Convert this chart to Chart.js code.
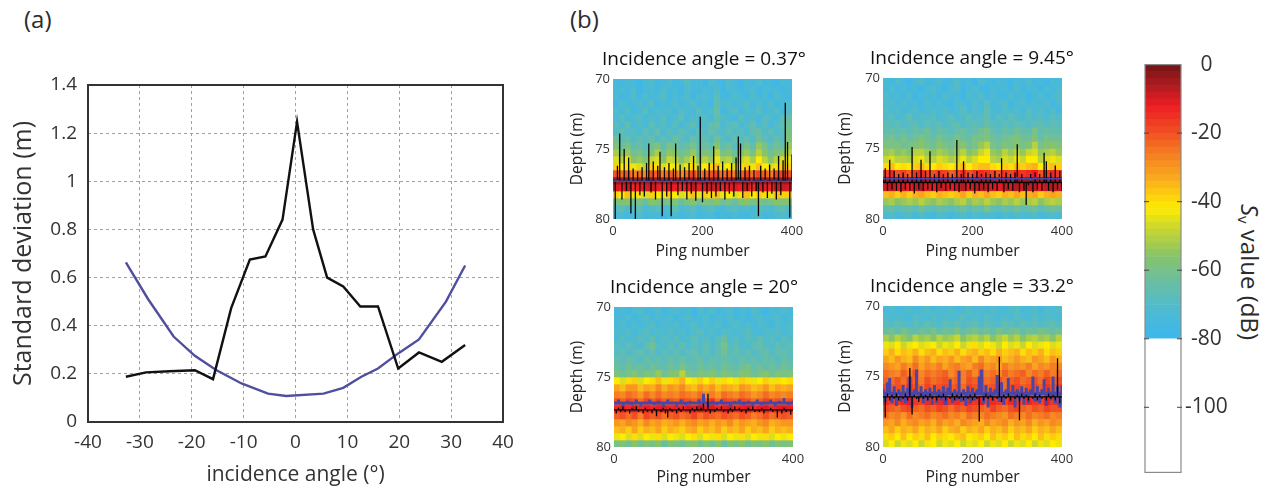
<!DOCTYPE html>
<html>
<head>
<meta charset="utf-8">
<script src="https://cdn.jsdelivr.net/npm/chart.js@4"></script>
<style>
html, body { margin: 0; padding: 0; background: #fff; width: 1270px; height: 489px; overflow: hidden; }
canvas { position: absolute; filter: blur(0.5px); }
canvas.heat { filter: blur(0.6px); }
.lbl { position: absolute; font-family: "Open Sans", sans-serif; color: #2b2b2b; white-space: nowrap; }
#svLabel { left: 1250px; top: 272px; font-size: 24px; transform: translate(-50%, -50%) rotate(90deg); }
#svLabel sub { font-size: 15px; vertical-align: -3px; line-height: 0; }
</style>
</head>
<body>
<div class="lbl" style="left:24px;top:2px;font-size:24px">(a)</div>
<div class="lbl" style="left:570px;top:2px;font-size:24px">(b)</div>
<div class="lbl" id="svLabel"><i>S</i><sub>v</sub> value (dB)</div>
<canvas id="lines" style="left:0;top:60px" width="540" height="429"></canvas>
<canvas class="heat" id="heatA" style="left:559px;top:48px" width="290" height="215"></canvas>
<canvas class="heat" id="heatB" style="left:827px;top:47px" width="290" height="216"></canvas>
<canvas class="heat" id="heatC" style="left:559px;top:276px" width="290" height="213"></canvas>
<canvas class="heat" id="heatD" style="left:827px;top:275px" width="290" height="214"></canvas>
<canvas id="colorbar" style="left:1130px;top:48px" width="110" height="441"></canvas>
<script>
// panel (a)
var blackAngle = [-32.7, -28.8, -24.3, -19.4, -15.9, -12.4, -8.8, -5.8, -2.5, 0.3, 3.4, 6.1, 9.2, 12.5, 15.9, 19.8, 23.8, 28.2, 32.7];
var blackStd = [0.188, 0.206, 0.211, 0.215, 0.178, 0.473, 0.675, 0.688, 0.841, 1.247, 0.80, 0.60, 0.563, 0.48, 0.48, 0.222, 0.289, 0.25, 0.32];
var blueAngle = [-32.7, -28.4, -23.5, -19.4, -15.3, -10.4, -5.3, -1.8, 5.4, 9.2, 12.7, 15.9, 19.8, 23.8, 29, 32.7];
var blueStd = [0.663, 0.51, 0.355, 0.275, 0.216, 0.16, 0.118, 0.108, 0.118, 0.142, 0.188, 0.222, 0.285, 0.343, 0.50, 0.65];

// panel (b): depth bands and Sv cells in dB, one row per depth band
var depthBands = [70, 70.5, 71, 71.5, 72, 72.5, 73, 73.5, 74, 74.5, 75, 75.5, 76, 76.5, 77, 77.5, 78, 78.5, 79, 79.5];
var cellColumns = ["c1","c2","c3","c4","c5","c6","c7","c8","c9","c10","c11","c12","c13","c14","c15","c16","c17","c18","c19","c20","c21","c22","c23","c24","c25","c26","c27","c28","c29","c30"];
var svA = [
[-74,-77,-72,-75,-79,-73,-70,-76,-74,-71,-77,-75,-69,-75,-73,-78,-71,-74,-77,-70,-74,-78,-72,-75,-71,-76,-74,-79,-72,-75],
[-75,-72,-76,-71,-78,-74,-72,-77,-70,-75,-73,-78,-71,-74,-76,-72,-75,-70,-78,-73,-72,-76,-74,-71,-78,-73,-75,-72,-77,-74],
[-72,-76,-74,-70,-77,-71,-75,-73,-69,-76,-72,-74,-70,-77,-73,-71,-75,-68,-74,-76,-71,-73,-77,-70,-75,-72,-78,-71,-74,-76],
[-76,-71,-73,-75,-70,-74,-68,-77,-72,-74,-70,-76,-73,-69,-75,-72,-77,-66,-72,-70,-75,-72,-69,-76,-71,-74,-70,-77,-73,-71],
[-71,-74,-69,-76,-72,-68,-75,-71,-73,-70,-76,-69,-72,-74,-68,-75,-71,-65,-76,-72,-69,-74,-71,-73,-68,-75,-72,-69,-76,-70],
[-73,-68,-74,-71,-69,-75,-70,-72,-68,-74,-71,-67,-75,-70,-72,-69,-74,-66,-70,-73,-75,-68,-72,-70,-74,-69,-71,-75,-68,-64],
[-68,-72,-66,-74,-70,-73,-67,-71,-69,-72,-68,-74,-70,-66,-73,-71,-67,-64,-72,-69,-67,-73,-70,-66,-72,-68,-74,-70,-67,-62],
[-70,-66,-71,-69,-72,-67,-70,-65,-72,-68,-71,-66,-69,-72,-67,-70,-65,-68,-71,-66,-70,-68,-72,-66,-64,-70,-67,-71,-68,-60],
[-62,-68,-65,-70,-66,-69,-64,-70,-67,-69,-63,-68,-71,-64,-68,-66,-70,-62,-68,-71,-65,-69,-66,-70,-62,-67,-70,-65,-69,-58],
[-58,-63,-60,-66,-64,-68,-62,-58,-66,-60,-62,-66,-64,-60,-67,-63,-65,-56,-66,-62,-68,-64,-60,-66,-54,-60,-66,-62,-64,-54],
[-52,-58,-54,-62,-60,-64,-58,-52,-62,-55,-56,-62,-60,-54,-63,-58,-60,-50,-60,-58,-62,-56,-54,-60,-50,-56,-62,-58,-56,-50],
[-46,-50,-44,-56,-54,-58,-48,-46,-56,-48,-50,-56,-52,-46,-56,-50,-54,-44,-52,-50,-56,-48,-46,-52,-42,-50,-56,-50,-46,-44],
[-38,-42,-40,-44,-46,-50,-38,-40,-46,-42,-44,-48,-44,-40,-48,-42,-38,-36,-44,-42,-46,-40,-38,-44,-36,-42,-46,-40,-38,-38],
[-20,-24,-20,-26,-24,-28,-20,-22,-26,-22,-24,-28,-24,-18,-26,-22,-20,-18,-24,-22,-26,-22,-18,-24,-18,-22,-26,-18,-18,-20],
[-4,-5,-3,-6,-5,-6,-4,-5,-6,-4,-5,-6,-4,-3,-5,-4,-3,-4,-6,-5,-4,-5,-3,-6,-4,-5,-6,-3,-4,-4],
[-10,-12,-8,-14,-12,-10,-9,-12,-14,-10,-12,-14,-11,-8,-12,-10,-9,-10,-13,-12,-10,-12,-8,-14,-10,-12,-13,-8,-9,-10],
[-38,-42,-36,-44,-40,-46,-38,-42,-44,-38,-42,-46,-40,-36,-44,-38,-40,-36,-44,-42,-46,-40,-36,-42,-38,-40,-44,-36,-38,-38],
[-60,-58,-56,-62,-60,-64,-56,-58,-62,-60,-58,-64,-60,-56,-62,-58,-60,-56,-62,-60,-64,-58,-56,-60,-58,-62,-60,-56,-58,-58],
[-70,-66,-72,-68,-66,-72,-70,-68,-74,-70,-66,-72,-70,-68,-74,-70,-68,-72,-74,-70,-68,-72,-70,-74,-68,-70,-72,-68,-66,-70],
[-74,-72,-76,-74,-70,-76,-73,-75,-78,-74,-72,-76,-74,-71,-77,-75,-72,-78,-74,-76,-72,-75,-77,-73,-70,-76,-74,-72,-70,-74]
];
var svB = [
[-73,-76,-71,-75,-78,-72,-70,-76,-74,-71,-77,-74,-70,-76,-73,-78,-71,-74,-77,-72,-74,-78,-72,-75,-71,-76,-74,-78,-72,-75],
[-75,-71,-77,-72,-76,-74,-79,-73,-71,-75,-78,-72,-70,-77,-74,-71,-76,-79,-72,-75,-73,-77,-71,-76,-74,-72,-78,-73,-75,-72],
[-70,-74,-72,-76,-71,-78,-73,-75,-72,-77,-70,-75,-73,-78,-71,-74,-70,-76,-72,-74,-77,-71,-75,-72,-78,-74,-71,-76,-73,-70],
[-72,-70,-75,-71,-74,-72,-77,-70,-75,-72,-74,-78,-71,-73,-76,-70,-74,-68,-75,-72,-70,-76,-73,-71,-75,-72,-74,-70,-77,-72],
[-69,-73,-70,-74,-72,-70,-75,-72,-71,-73,-70,-75,-72,-68,-74,-71,-73,-66,-72,-74,-70,-73,-71,-75,-69,-73,-70,-74,-71,-76],
[-70,-68,-72,-70,-67,-72,-69,-71,-68,-73,-70,-68,-72,-70,-67,-71,-69,-66,-72,-68,-71,-67,-70,-72,-68,-71,-69,-72,-68,-70],
[-66,-69,-67,-70,-68,-66,-71,-67,-69,-67,-70,-68,-66,-70,-68,-66,-69,-64,-68,-70,-67,-69,-66,-68,-70,-67,-66,-69,-67,-68],
[-66,-64,-67,-65,-68,-64,-66,-62,-68,-64,-66,-68,-65,-63,-67,-65,-62,-60,-66,-68,-64,-66,-62,-65,-66,-60,-66,-64,-65,-66],
[-62,-60,-64,-60,-64,-62,-58,-62,-64,-60,-63,-64,-60,-62,-64,-60,-60,-58,-62,-64,-62,-60,-58,-62,-62,-58,-64,-60,-62,-62],
[-58,-60,-58,-62,-60,-58,-56,-60,-62,-56,-60,-62,-58,-56,-62,-60,-54,-50,-60,-62,-58,-60,-56,-60,-58,-50,-60,-58,-56,-58],
[-54,-52,-56,-54,-58,-50,-50,-54,-56,-52,-54,-58,-54,-50,-56,-54,-48,-44,-54,-56,-50,-54,-50,-54,-48,-46,-54,-52,-50,-54],
[-48,-46,-50,-50,-52,-46,-44,-50,-50,-46,-48,-52,-48,-44,-50,-46,-42,-42,-50,-52,-46,-48,-44,-48,-42,-42,-50,-46,-44,-46],
[-40,-36,-42,-40,-42,-38,-36,-40,-42,-38,-40,-42,-38,-36,-42,-38,-36,-36,-40,-42,-38,-40,-36,-38,-36,-34,-42,-38,-36,-38],
[-18,-14,-20,-18,-22,-16,-14,-18,-20,-16,-18,-22,-18,-14,-20,-16,-14,-16,-18,-20,-16,-18,-14,-16,-14,-12,-20,-16,-14,-16],
[-5,-4,-6,-5,-7,-4,-3,-5,-6,-4,-5,-7,-5,-3,-6,-4,-3,-4,-5,-6,-4,-5,-3,-5,-4,-3,-6,-4,-3,-4],
[-9,-7,-11,-9,-12,-8,-6,-10,-11,-8,-9,-12,-9,-7,-11,-8,-7,-8,-10,-11,-8,-9,-7,-9,-8,-7,-11,-8,-7,-8],
[-36,-34,-38,-34,-38,-34,-32,-36,-38,-34,-36,-38,-36,-32,-38,-34,-36,-32,-36,-38,-34,-36,-32,-36,-34,-32,-38,-34,-32,-34],
[-54,-52,-56,-54,-52,-54,-50,-54,-56,-52,-54,-56,-52,-50,-56,-52,-54,-50,-54,-56,-52,-54,-50,-54,-52,-50,-56,-52,-50,-52],
[-66,-64,-68,-66,-64,-68,-62,-66,-68,-64,-66,-68,-66,-62,-68,-64,-66,-60,-66,-68,-64,-66,-62,-66,-64,-62,-68,-64,-62,-64],
[-73,-70,-75,-72,-70,-75,-70,-74,-76,-71,-73,-76,-72,-70,-75,-71,-74,-72,-73,-76,-71,-74,-70,-73,-72,-70,-75,-72,-71,-72]
];
var svC = [
[-75,-72,-77,-73,-70,-76,-74,-71,-77,-73,-70,-75,-72,-78,-71,-74,-70,-76,-73,-71,-77,-72,-75,-70,-74,-78,-72,-75,-71,-74],
[-72,-75,-71,-76,-73,-70,-75,-72,-74,-71,-77,-72,-70,-75,-73,-71,-76,-72,-74,-70,-75,-73,-77,-72,-71,-75,-73,-70,-76,-72],
[-74,-70,-76,-71,-74,-72,-69,-75,-71,-73,-70,-76,-72,-69,-75,-71,-73,-70,-76,-72,-69,-73,-71,-75,-70,-72,-76,-71,-73,-70],
[-71,-73,-69,-75,-71,-68,-72,-70,-73,-69,-72,-70,-74,-70,-68,-72,-70,-74,-69,-71,-73,-70,-68,-72,-74,-70,-71,-69,-73,-71],
[-72,-69,-73,-70,-68,-71,-66,-72,-69,-71,-68,-72,-70,-67,-71,-69,-72,-68,-64,-71,-69,-72,-68,-70,-66,-71,-69,-72,-68,-70],
[-68,-71,-67,-70,-72,-66,-62,-69,-71,-67,-70,-66,-71,-68,-69,-66,-70,-67,-60,-69,-67,-70,-71,-67,-65,-69,-71,-66,-69,-67],
[-69,-66,-70,-68,-65,-69,-66,-71,-67,-69,-66,-70,-67,-65,-69,-67,-70,-66,-62,-68,-65,-69,-66,-70,-67,-64,-69,-67,-65,-68],
[-65,-68,-64,-67,-69,-64,-67,-65,-68,-64,-67,-63,-68,-66,-64,-68,-65,-67,-64,-66,-68,-64,-67,-65,-68,-64,-66,-69,-64,-66],
[-63,-66,-62,-65,-63,-66,-62,-64,-66,-62,-65,-60,-64,-66,-62,-65,-63,-66,-62,-64,-66,-62,-60,-65,-62,-66,-63,-65,-62,-64],
[-58,-62,-60,-56,-62,-58,-60,-54,-62,-58,-56,-50,-60,-62,-58,-60,-56,-62,-58,-60,-62,-56,-58,-62,-60,-56,-62,-58,-60,-58],
[-42,-46,-40,-38,-46,-42,-40,-36,-44,-40,-38,-34,-42,-44,-38,-42,-38,-44,-40,-42,-44,-38,-40,-44,-42,-38,-44,-40,-42,-40],
[-32,-36,-30,-30,-36,-32,-34,-28,-34,-30,-32,-28,-34,-36,-30,-34,-30,-36,-32,-34,-36,-30,-32,-36,-34,-30,-36,-32,-34,-32],
[-26,-28,-24,-26,-30,-24,-28,-24,-28,-26,-28,-24,-26,-28,-24,-28,-26,-30,-24,-26,-28,-24,-26,-30,-28,-24,-28,-26,-28,-26],
[-20,-22,-18,-20,-24,-18,-22,-18,-22,-20,-22,-18,-20,-22,-18,-20,-16,-24,-18,-20,-22,-18,-20,-24,-22,-18,-22,-20,-22,-20],
[-14,-12,-14,-10,-14,-12,-14,-12,-10,-14,-12,-14,-10,-12,-8,-12,-10,-14,-12,-10,-14,-12,-10,-14,-12,-10,-14,-12,-10,-12],
[-22,-20,-24,-20,-26,-18,-22,-20,-24,-22,-20,-24,-22,-18,-24,-20,-22,-24,-20,-22,-24,-20,-22,-26,-24,-20,-24,-22,-20,-22],
[-30,-32,-28,-30,-34,-28,-32,-30,-34,-32,-30,-34,-30,-28,-32,-30,-34,-30,-32,-28,-34,-30,-32,-34,-30,-28,-34,-32,-30,-30],
[-36,-34,-38,-32,-38,-34,-36,-32,-38,-34,-36,-38,-34,-32,-38,-34,-36,-32,-38,-34,-36,-32,-38,-34,-36,-32,-38,-34,-36,-34],
[-44,-42,-46,-40,-46,-42,-44,-40,-46,-42,-44,-46,-42,-40,-46,-42,-44,-40,-46,-42,-44,-40,-46,-42,-44,-40,-46,-42,-44,-42],
[-60,-58,-62,-56,-62,-58,-60,-56,-64,-58,-60,-62,-58,-56,-62,-58,-62,-56,-64,-58,-60,-56,-62,-58,-60,-56,-62,-58,-60,-58]
];
var svD = [
[-74,-71,-75,-72,-70,-74,-72,-69,-74,-71,-73,-70,-74,-72,-69,-73,-71,-74,-70,-72,-74,-71,-69,-74,-72,-70,-76,-71,-73,-70],
[-71,-73,-70,-72,-74,-69,-71,-73,-69,-72,-70,-73,-71,-68,-72,-70,-73,-69,-71,-73,-70,-72,-69,-71,-73,-69,-72,-70,-71,-72],
[-68,-70,-67,-69,-71,-67,-70,-66,-69,-71,-67,-69,-66,-70,-68,-66,-70,-67,-69,-71,-66,-68,-70,-66,-69,-67,-70,-68,-66,-69],
[-64,-62,-66,-60,-64,-66,-62,-64,-60,-66,-62,-64,-60,-66,-62,-60,-64,-62,-66,-60,-64,-62,-60,-66,-62,-64,-60,-62,-64,-62],
[-52,-56,-50,-54,-58,-50,-54,-52,-56,-50,-54,-52,-48,-56,-52,-50,-54,-50,-56,-52,-48,-54,-50,-56,-52,-50,-54,-52,-56,-50],
[-44,-46,-42,-48,-44,-42,-46,-44,-42,-48,-44,-46,-42,-48,-44,-40,-46,-42,-44,-48,-42,-46,-44,-48,-42,-46,-44,-42,-46,-44],
[-38,-34,-40,-36,-38,-34,-40,-36,-34,-40,-36,-38,-34,-40,-36,-34,-38,-36,-40,-34,-38,-36,-34,-40,-36,-38,-34,-40,-36,-38],
[-32,-36,-30,-34,-36,-28,-34,-30,-36,-32,-34,-30,-36,-32,-30,-36,-28,-34,-32,-30,-36,-34,-30,-34,-36,-30,-32,-36,-30,-34],
[-28,-30,-32,-26,-30,-24,-32,-28,-30,-26,-32,-28,-26,-30,-32,-26,-24,-30,-28,-32,-26,-30,-28,-30,-26,-32,-28,-30,-26,-28],
[-24,-26,-28,-22,-26,-20,-28,-24,-26,-24,-22,-28,-24,-26,-22,-28,-20,-26,-24,-28,-22,-26,-24,-22,-28,-24,-26,-22,-26,-24],
[-22,-24,-20,-24,-18,-22,-26,-20,-24,-22,-20,-24,-22,-26,-20,-22,-18,-24,-22,-20,-24,-22,-20,-24,-22,-20,-24,-18,-22,-20],
[-18,-22,-20,-22,-16,-20,-24,-18,-22,-20,-18,-22,-20,-24,-18,-20,-16,-22,-20,-18,-24,-20,-18,-22,-20,-18,-22,-16,-20,-18],
[-16,-18,-20,-16,-14,-18,-20,-16,-18,-16,-14,-18,-16,-20,-14,-18,-16,-20,-16,-14,-18,-16,-14,-20,-16,-18,-20,-14,-16,-16],
[-14,-18,-16,-14,-12,-16,-18,-14,-16,-14,-12,-16,-14,-18,-14,-16,-12,-18,-14,-16,-18,-14,-16,-18,-14,-16,-18,-12,-16,-14],
[-20,-22,-24,-20,-18,-22,-24,-20,-22,-18,-20,-24,-20,-22,-18,-20,-22,-24,-18,-22,-24,-20,-18,-22,-24,-20,-22,-18,-20,-20],
[-24,-28,-26,-30,-24,-28,-26,-24,-28,-26,-24,-28,-26,-30,-24,-26,-28,-24,-26,-28,-30,-24,-26,-28,-24,-28,-26,-24,-28,-26],
[-30,-32,-28,-34,-30,-28,-32,-30,-34,-28,-32,-30,-34,-28,-30,-32,-34,-28,-32,-30,-28,-34,-30,-32,-28,-34,-30,-32,-28,-30],
[-36,-32,-38,-34,-36,-32,-38,-34,-36,-32,-38,-34,-32,-38,-34,-36,-32,-38,-34,-36,-32,-38,-34,-36,-32,-38,-34,-36,-32,-36],
[-40,-38,-42,-36,-42,-38,-40,-36,-42,-38,-40,-42,-38,-36,-42,-40,-38,-42,-36,-40,-38,-42,-36,-40,-38,-42,-36,-40,-38,-40],
[-46,-42,-48,-44,-46,-42,-48,-44,-42,-48,-44,-46,-42,-48,-44,-46,-42,-48,-44,-46,-42,-48,-44,-46,-42,-48,-44,-46,-42,-44]
];

// bottom depth picks every 5 pings, 0 to 400
var blackA = [77.3,80.0,76.2,73.9,78.6,75.0,78.0,75.6,79.6,76.4,80.0,76.6,78.3,76.3,78.4,76.0,74.6,78.1,75.9,78.6,76.2,75.2,79.8,76.3,78.4,76.0,79.8,76.4,74.6,78.3,76.1,78.0,76.3,78.6,76.0,78.2,75.5,78.7,76.2,72.7,78.8,76.4,78.2,76.0,78.5,74.8,78.4,76.2,78.0,75.9,78.6,76.4,78.2,76.0,78.4,75.6,74.1,74.6,78.5,76.3,78.0,76.2,78.4,76.5,78.0,79.8,76.2,78.1,76.4,78.5,76.1,78.2,76.4,78.6,75.5,78.3,75.8,71.7,74.5,79.9,75.4];
var blackB = [77.2,76.4,78.0,75.8,77.9,76.6,78.0,76.8,78.1,76.7,77.9,76.8,78.0,74.9,78.2,76.7,77.9,75.8,78.0,76.6,77.9,75.2,78.0,76.8,78.1,76.6,77.8,76.8,78.0,76.7,77.9,76.8,78.0,74.4,78.1,76.8,75.9,78.0,76.7,77.9,76.8,78.2,76.6,78.0,76.8,77.9,76.7,78.1,76.8,77.9,76.6,78.0,76.8,75.7,78.1,76.7,77.9,76.8,78.0,76.7,74.7,78.1,76.8,78.0,79.0,77.6,76.8,78.1,76.7,77.9,76.8,78.0,75.3,75.9,78.0,76.7,78.1,76.2,77.9,76.6,78.0];
var blackC = [77.3,77.6,77.2,77.5,77.1,77.5,77.3,77.6,77.2,77.4,77.1,77.5,77.3,77.6,77.2,77.5,77.3,77.6,77.2,77.8,77.3,77.5,77.2,77.6,77.9,77.2,77.5,77.3,77.6,77.2,77.5,77.1,77.4,77.3,77.6,77.2,77.5,77.1,77.4,77.2,76.9,77.5,76.2,77.6,77.3,77.5,77.2,77.4,77.1,77.5,77.3,77.6,77.2,77.5,77.1,77.4,77.2,77.5,77.3,77.6,77.2,77.4,77.1,77.5,77.3,77.5,77.2,77.6,77.3,77.4,77.2,77.5,77.3,77.9,77.3,77.6,77.2,77.5,77.3,77.7,77.4];
var blackD = [76.5,77.9,76.2,76.7,76.3,76.6,76.2,76.7,76.4,76.6,76.2,76.7,74.4,77.7,76.3,76.6,76.8,76.2,76.6,76.3,76.7,76.2,76.6,76.4,76.7,76.3,76.5,76.2,76.7,76.4,76.6,76.2,76.7,76.3,76.6,76.2,76.7,76.4,76.6,76.3,76.7,76.2,76.6,78.2,76.4,76.7,76.2,76.6,76.3,76.7,76.4,76.6,73.6,76.8,76.3,76.6,76.2,76.7,76.4,76.6,76.3,78.1,76.2,76.6,76.3,76.7,76.4,76.6,76.2,76.7,76.3,76.6,76.4,76.7,76.2,76.6,76.3,76.7,73.7,76.9,76.4];
// second pick: one value every 10 pings for A, B, C and every 5 for D
var blueA = [77.3,77.2,77.4,77.3,77.2,77.4,77.3,77.2,77.4,77.3,77.2,77.3,77.4,77.2,77.3,77.4,77.3,77.2,77.4,77.3,77.4,77.2,77.3,77.4,77.3,77.2,77.4,77.3,77.2,77.3,77.4,77.2,77.3,77.4,77.2,77.3,77.2,77.4,77.3,77.2,77.3];
var blueB = [77.2,77.0,77.3,77.1,77.2,77.0,77.3,77.1,77.3,77.0,77.2,77.1,77.3,77.0,77.2,77.1,77.3,77.0,77.2,77.1,77.2,77.3,77.0,77.2,77.1,77.3,77.0,77.2,77.1,77.3,77.0,77.2,77.1,77.3,77.0,77.2,77.1,77.3,77.0,77.2,77.1];
var blueC = [76.9,76.6,77.1,76.7,77.0,76.6,77.1,76.8,76.6,77.0,76.7,77.1,76.6,76.9,77.1,76.6,77.0,76.7,76.9,76.6,76.2,77.1,76.7,77.0,76.6,76.9,77.1,76.7,76.6,77.0,76.7,77.1,76.6,77.0,76.8,76.6,77.1,76.7,76.5,77.0,76.7];
var blueD = [75.9,76.8,75.4,75.1,76.9,75.7,77.1,75.9,76.8,75.6,76.9,75.8,75.0,77.2,75.9,74.5,76.6,75.7,76.9,75.9,76.7,75.8,77.0,75.6,76.9,75.9,76.7,75.7,77.0,75.8,75.2,76.9,75.9,76.7,74.6,76.8,75.9,77.1,75.7,76.9,75.8,76.7,75.9,75.0,74.5,76.9,75.6,77.2,75.8,76.7,75.9,74.9,76.8,75.4,77.0,75.9,75.1,76.8,75.6,77.2,75.9,76.7,75.7,77.0,75.8,76.9,75.9,75.0,76.8,75.7,76.9,75.9,75.2,77.1,75.8,76.7,75.0,76.9,75.7,77.2,75.6];
// depth the picks scatter round, panels A to D
var blackCentre = [77.3, 77.4, 77.35, 76.45];
var blueCentre = [77.3, 77.15, 76.85, 76.2];

// colour scale of the bar
var colorbarTicks = [0, -20, -40, -60, -80, -100];
var stopValues = [-80, -72, -64, -56, -48, -42, -34, -26, -20, -12, -6, 0];
var stopColors = [[60,182,236],[76,186,210],[104,190,165],[135,195,105],[200,214,48],[255,235,0],[250,175,30],[245,125,35],[240,80,35],[237,28,36],[170,28,32],[115,20,22]];

function dbColor(v) {
    if (v < -80) return "#ffffff";
    for (var i = 1; i < stopValues.length; i++) {
        if (v <= stopValues[i]) {
            var t = (v - stopValues[i - 1]) / (stopValues[i] - stopValues[i - 1]);
            var a = stopColors[i - 1], b = stopColors[i];
            return "rgb(" + Math.round(a[0] + (b[0] - a[0]) * t) + "," + Math.round(a[1] + (b[1] - a[1]) * t) + "," + Math.round(a[2] + (b[2] - a[2]) * t) + ")";
        }
    }
    return "rgb(115,20,22)";
}

var FONT = "'Open Sans', sans-serif";
var INK = "#333333";
Chart.defaults.animation = false;
Chart.defaults.responsive = false;
Chart.defaults.font.family = FONT;
Chart.defaults.color = INK;

function toPoints(xs, ys) {
    return xs.map(function (x, i) { return { x: x, y: ys[i] }; });
}

// each pick as a thin vertical streak from the centre depth
function toStreaks(xs, ys, centre) {
    var pts = [];
    xs.forEach(function (x, i) {
        pts.push({ x: x, y: centre });
        pts.push({ x: x, y: ys[i] });
        pts.push({ x: x, y: centre });
    });
    return pts;
}

// outline round the plot area
var frame = {
    id: "frame",
    afterDraw: function (chart) {
        var a = chart.chartArea, c = chart.ctx;
        c.save();
        c.strokeStyle = "#333333";
        c.lineWidth = 2;
        c.strokeRect(a.left, a.top, a.right - a.left, a.bottom - a.top);
        c.restore();
    }
};

new Chart(document.getElementById("lines"), {
    type: "line",
    data: {
        datasets: [
            { data: toPoints(blackAngle, blackStd), borderColor: "#111111", borderWidth: 2.4, pointRadius: 0, tension: 0 },
            { data: toPoints(blueAngle, blueStd), borderColor: "#4f4f9e", borderWidth: 2.4, pointRadius: 0, tension: 0 }
        ]
    },
    options: {
        layout: { padding: { top: 25, right: 37 } },
        plugins: { legend: { display: false }, tooltip: { enabled: false } },
        scales: {
            x: {
                type: "linear", min: -40, max: 40,
                afterFit: function (s) { s.height = 67; },
                ticks: { stepSize: 10, font: { size: 19 }, padding: 9, maxRotation: 0 },
                grid: { color: "#a0a0a0", tickLength: 0 },
                border: { dash: [3, 3], display: false },
                title: { display: true, text: "incidence angle (°)", font: { size: 21 }, padding: { top: 0, bottom: 1 } }
            },
            y: {
                min: 0, max: 1.4,
                afterFit: function (s) { s.width = 88; },
                ticks: { stepSize: 0.2, font: { size: 19 }, padding: 11, callback: function (v) { return String(+v.toFixed(1)); } },
                grid: { color: "#a0a0a0", tickLength: 0 },
                border: { dash: [3, 3], display: false },
                title: { display: true, text: "Standard deviation (m)", font: { size: 25 }, padding: { top: 9, bottom: 0 } }
            }
        }
    },
    plugins: [frame]
});

var pingsFine = [], pingsCoarse = [];
for (var p = 0; p <= 400; p += 5) { pingsFine.push(p); if (p % 10 === 0) pingsCoarse.push(p); }

function makeHeat(id, title, cells, black, blue, bluePings, panel, blueOnTop, axisWidth, axisHeight) {
    var rightGap = 290 - axisWidth - 179;
    var datasets = depthBands.map(function (d, r) {
        return {
            type: "bar", xAxisID: "xc", order: 5, grouped: false,
            barPercentage: 1, categoryPercentage: 1, borderWidth: 0,
            data: cellColumns.map(function () { return [d, d + 0.5]; }),
            backgroundColor: cells[r].map(dbColor)
        };
    });
    datasets.push({ type: "line", xAxisID: "x", order: blueOnTop ? 1 : 2, data: toStreaks(bluePings, blue, blueCentre[panel]), borderColor: "#4a46a8", borderWidth: blueOnTop ? 1.6 : 3, pointRadius: 0, tension: 0 });
    datasets.push({ type: "line", xAxisID: "x", order: blueOnTop ? 2 : 1, data: toStreaks(pingsFine, black, blackCentre[panel]), borderColor: "#050505", borderWidth: 1.3, pointRadius: 0, tension: 0 });
    new Chart(document.getElementById(id), {
        data: { labels: cellColumns, datasets: datasets },
        options: {
            layout: { padding: { top: 2 } },
            plugins: {
                legend: { display: false }, tooltip: { enabled: false },
                title: { display: true, text: title, color: "#111111", font: { size: 19, weight: "normal", lineHeight: 20 / 19 }, padding: { top: 0, bottom: 9 } }
            },
            scales: {
                xc: { type: "category", display: false },
                x: {
                    type: "linear", min: 0, max: 400,
                    afterFit: function (s) { s.height = axisHeight; },
                    ticks: { stepSize: 200, font: { size: 13 }, padding: 4, color: "#333333", maxRotation: 0 },
                    grid: { display: false, tickLength: 0 }, border: { display: false },
                    title: { display: true, text: "Ping number", font: { size: 15.7 }, color: "#222222", padding: { top: 0, bottom: 2 } }
                },
                y: {
                    min: 70, max: 80, reverse: true,
                    afterFit: function (s) { s.width = axisWidth; },
                    ticks: { stepSize: 5, font: { size: 13 }, padding: 3, color: "#333333" },
                    grid: { display: false, tickLength: 0 }, border: { display: false },
                    title: { display: true, text: "Depth (m)", font: { size: 15.6 }, color: "#222222", padding: { top: 9, bottom: 0 } }
                },
                // empty axis on the right so the title centres over the plot
                gap: {
                    type: "linear", position: "right",
                    afterFit: function (s) { s.width = rightGap; },
                    ticks: { display: false }, grid: { display: false }, border: { display: false }
                }
            }
        }
    });
}

makeHeat("heatA", "Incidence angle = 0.37°", svA, blackA, blueA, pingsCoarse, 0, true, 54, 44);
makeHeat("heatB", "Incidence angle = 9.45°", svB, blackB, blueB, pingsCoarse, 1, true, 56, 44);
makeHeat("heatC", "Incidence angle = 20°", svC, blackC, blueC, pingsCoarse, 2, false, 55, 42);
makeHeat("heatD", "Incidence angle = 33.2°", svD, blackD, blueD, pingsFine, 3, false, 56, 42);

// colour bar, one floating bar per 2 dB
var barLevels = [];
for (var lv = -120; lv < 0; lv += 2) barLevels.push(lv);

var barEdge = {
    id: "barEdge",
    afterDraw: function (chart) {
        var a = chart.chartArea, c = chart.ctx, s = chart.scales.y;
        c.save();
        c.strokeStyle = "#8a8a8a";
        c.lineWidth = 1.2;
        c.strokeRect(a.left, a.top, a.right - a.left, a.bottom - a.top);
        c.strokeStyle = "#444444";
        c.lineWidth = 1;
        colorbarTicks.forEach(function (v) {
            if (v === 0) return;
            var y = s.getPixelForValue(v);
            c.beginPath();
            c.moveTo(a.left - 1, y); c.lineTo(a.left + 4, y);
            c.moveTo(a.right - 4, y); c.lineTo(a.right + 1, y);
            c.stroke();
        });
        c.restore();
    }
};

new Chart(document.getElementById("colorbar"), {
    type: "bar",
    data: {
        labels: ["Sv"],
        datasets: barLevels.map(function (lv) {
            return { data: [[lv, lv + 2]], backgroundColor: dbColor(lv + 1), grouped: false, barPercentage: 1, categoryPercentage: 1, borderWidth: 0 };
        })
    },
    options: {
        layout: { padding: { top: 10, left: 15, bottom: 2, right: 13 } },
        plugins: { legend: { display: false }, tooltip: { enabled: false } },
        scales: {
            x: { display: false },
            y: {
                position: "right", min: -119, max: 0,
                afterBuildTicks: function (s) { s.ticks = colorbarTicks.map(function (v) { return { value: v }; }); },
                afterFit: function (s) { s.width = 46; },
                ticks: { font: { size: 21 }, padding: 4, crossAlign: "center", color: INK },
                grid: { display: false, tickLength: 0 }, border: { display: false }
            }
        }
    },
    plugins: [barEdge]
});
</script>
</body>
</html>
